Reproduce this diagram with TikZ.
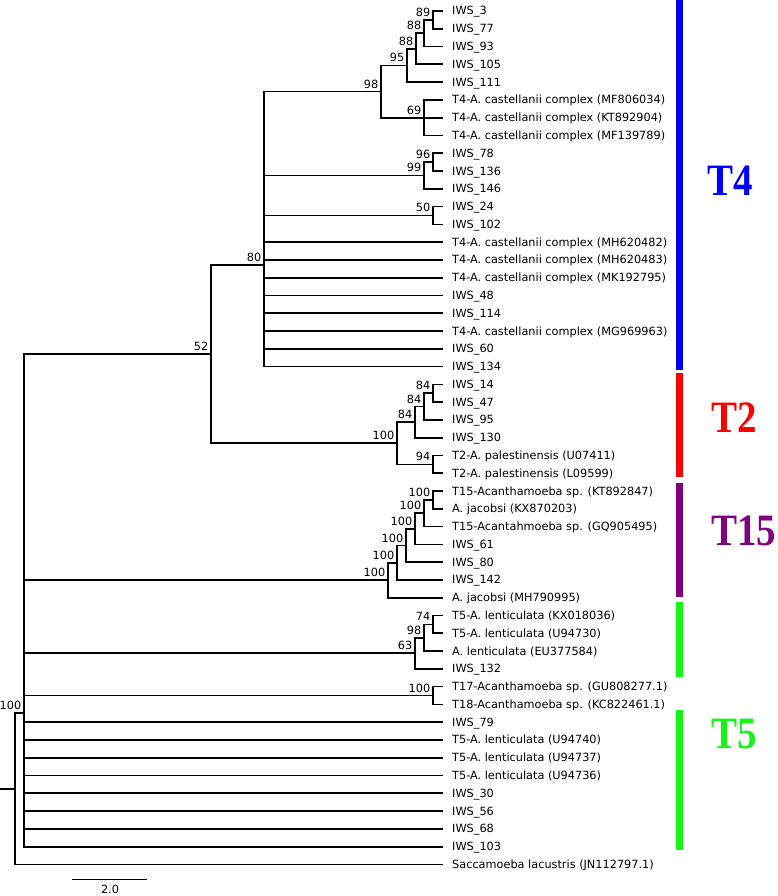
\documentclass[tikz,border=0pt]{standalone}
\usepackage{fontspec}
\setmainfont{DejaVu Sans}
\newfontfamily\grpfont{Liberation Serif}
\usetikzlibrary{calc}

\definecolor{tfourcol}{RGB}{0,0,255}
\definecolor{ttwocol}{RGB}{255,0,0}
\definecolor{tfifteencol}{RGB}{128,0,128}
\definecolor{tfivecol}{RGB}{20,245,20}

% leaf row -> y position
\newcommand{\yat}[1]{11+17.78*(#1-1)}

\tikzset{
  branch/.style={line width=1.7pt},
  leaf/.style={anchor=base west, inner sep=0pt, font=\fontsize{11.3}{13}\selectfont},
  supp/.style={anchor=base east, inner sep=0pt, font=\fontsize{11.3}{13}\selectfont},
  grpbar/.style={line width=7pt},
  grplabel/.style={anchor=base west, inner sep=0pt, font=\grpfont\bfseries\fontsize{39}{41}\selectfont}
}

\begin{document}
\begin{tikzpicture}[x=1pt,y=-1pt]
\useasboundingbox (0,0) rectangle (777,896);
% leaves
\foreach \lab [count=\i] in {IWS\_3,IWS\_77,IWS\_93,IWS\_105,IWS\_111,
  {T4-A. castellanii complex (MF806034)},{T4-A. castellanii complex (KT892904)},{T4-A. castellanii complex (MF139789)},
  IWS\_78,IWS\_136,IWS\_146,IWS\_24,IWS\_102,
  {T4-A. castellanii complex (MH620482)},{T4-A. castellanii complex (MH620483)},{T4-A. castellanii complex (MK192795)},
  IWS\_48,IWS\_114,{T4-A. castellanii complex (MG969963)},IWS\_60,IWS\_134,
  IWS\_14,IWS\_47,IWS\_95,IWS\_130,{T2-A. palestinensis (U07411)},{T2-A. palestinensis (L09599)},
  {T15-Acanthamoeba sp. (KT892847)},{A. jacobsi (KX870203)},{T15-Acantahmoeba sp. (GQ905495)},
  IWS\_61,IWS\_80,IWS\_142,{A. jacobsi (MH790995)},
  {T5-A. lenticulata (KX018036)},{T5-A. lenticulata (U94730)},{A. lenticulata (EU377584)},IWS\_132,
  {T17-Acanthamoeba sp. (GU808277.1)},{T18-Acanthamoeba sp. (KC822461.1)},
  IWS\_79,{T5-A. lenticulata (U94740)},{T5-A. lenticulata (U94737)},{T5-A. lenticulata (U94736)},
  IWS\_30,IWS\_56,IWS\_68,IWS\_103,{Saccamoeba lacustris (JN112797.1)}}
{
  \coordinate (tip\i) at (443,{\yat{\i}});
  \node[leaf] (lab\i) at ([xshift=9pt,yshift=-4pt]tip\i) {\lab};
}
% internal nodes
\coordinate (n89) at (433,{\yat{1.5}}); \coordinate (n88a) at (424,{\yat{2.25}}); \coordinate (n88b) at (416,{\yat{3.125}});
\coordinate (n95) at (407,{\yat{4.0625}}); \coordinate (n69) at (424,{\yat{7}}); \coordinate (n98) at (381,{\yat{5.53125}});
\coordinate (n96) at (433,{\yat{9.5}}); \coordinate (n99) at (424,{\yat{10.25}}); \coordinate (n50) at (433,{\yat{12.5}});
\coordinate (n80) at (264,{\yat{15.2983}});
\coordinate (n84a) at (433,{\yat{22.5}}); \coordinate (n84b) at (424,{\yat{23.25}}); \coordinate (n84c) at (415,{\yat{24.125}});
\coordinate (n94) at (433,{\yat{26.5}}); \coordinate (nT2) at (397,{\yat{25.3125}}); \coordinate (n52) at (211,{\yat{20.3054}});
\coordinate (f1) at (433,{\yat{28.5}}); \coordinate (f2) at (424,{\yat{29.25}}); \coordinate (f3) at (415,{\yat{30.125}});
\coordinate (f4) at (406,{\yat{31.0625}}); \coordinate (f5) at (397,{\yat{32.03125}}); \coordinate (f6) at (388,{\yat{33.015625}});
\coordinate (g1) at (433,{\yat{35.5}}); \coordinate (g2) at (424,{\yat{36.25}}); \coordinate (g3) at (415,{\yat{37.125}});
\coordinate (n17) at (433,{\yat{39.5}}); \coordinate (nbase) at (24,{\yat{40.4955}});
\coordinate (root) at (15,{\yat{44.7478}}); \coordinate (stub) at (0,{\yat{44.7478}});
% T4 clade
\draw[branch] (n89) |- (tip1) (n89) |- (tip2) (n88a) |- (n89) (n88a) |- (tip3)
  (n88b) |- (n88a) (n88b) |- (tip4) (n95) |- (n88b) (n95) |- (tip5)
  (n69) |- (tip6) (n69) |- (tip7) (n69) |- (tip8) (n98) |- (n95) (n98) |- (n69)
  (n96) |- (tip9) (n96) |- (tip10) (n99) |- (n96) (n99) |- (tip11)
  (n50) |- (tip12) (n50) |- (tip13)
  (n80) |- (n98) (n80) |- (n99) (n80) |- (n50);
\foreach \i in {14,...,21} \draw[branch] (n80) |- (tip\i);
% T2 clade
\draw[branch] (n84a) |- (tip22) (n84a) |- (tip23) (n84b) |- (n84a) (n84b) |- (tip24)
  (n84c) |- (n84b) (n84c) |- (tip25) (n94) |- (tip26) (n94) |- (tip27)
  (nT2) |- (n84c) (nT2) |- (n94) (n52) |- (n80) (n52) |- (nT2);
% T15 clade
\draw[branch] (f1) |- (tip28) (f1) |- (tip29) (f2) |- (f1) (f2) |- (tip30)
  (f3) |- (f2) (f3) |- (tip31) (f4) |- (f3) (f4) |- (tip32)
  (f5) |- (f4) (f5) |- (tip33) (f6) |- (f5) (f6) |- (tip34);
% T5, T17/T18 and base
\draw[branch] (g1) |- (tip35) (g1) |- (tip36) (g2) |- (g1) (g2) |- (tip37)
  (g3) |- (g2) (g3) |- (tip38) (n17) |- (tip39) (n17) |- (tip40)
  (nbase) |- (n52) (nbase) |- (f6) (nbase) |- (g3) (nbase) |- (n17);
\foreach \i in {41,...,48} \draw[branch] (nbase) |- (tip\i);
\draw[branch] (root) |- (nbase) (root) |- (tip49) (stub) -- (root);
% support values
\foreach \n/\v in {n89/89,n88a/88,n88b/88,n95/95,n98/98,n69/69,n96/96,n99/99,n50/50,n80/80,n52/52,
  n84a/84,n84b/84,n84c/84,nT2/100,n94/94,f1/100,f2/100,f3/100,f4/100,f5/100,f6/100,
  g1/74,g2/98,g3/63,n17/100,nbase/100}
  \node[supp] (s\n) at ([xshift=-2.5pt,yshift=3.5pt]\n) {\v};
% scale bar
\coordinate (sb1) at (72,879); \coordinate (sb2) at (147,879);
\draw[line width=0.9pt] (sb1) -- (sb2);
\node[font=\fontsize{11.3}{13}\selectfont, inner sep=0pt, anchor=base] (sblab) at (110,893) {2.0};
% group bars
\draw[grpbar, tfourcol] (679.5,0) -- (679.5,370);
\draw[grpbar, ttwocol] (679.5,373) -- (679.5,477);
\draw[grpbar, tfifteencol] (679.5,483) -- (679.5,597);
\draw[grpbar, tfivecol] (679.5,602) -- (679.5,677);
\draw[grpbar, tfivecol] (679.5,710) -- (679.5,850);
\node[grplabel, tfourcol] (gT4) at (707,195) {\scalebox{1}[1.15]{T4}};
\node[grplabel, ttwocol] (gT2) at (711,432) {\scalebox{1}[1.15]{T2}};
\node[grplabel, tfifteencol] (gT15) at (711,545) {\scalebox{1}[1.15]{T15}};
\node[grplabel, tfivecol] (gT5) at (711,748) {\scalebox{1}[1.15]{T5}};
\end{tikzpicture}
\end{document}
